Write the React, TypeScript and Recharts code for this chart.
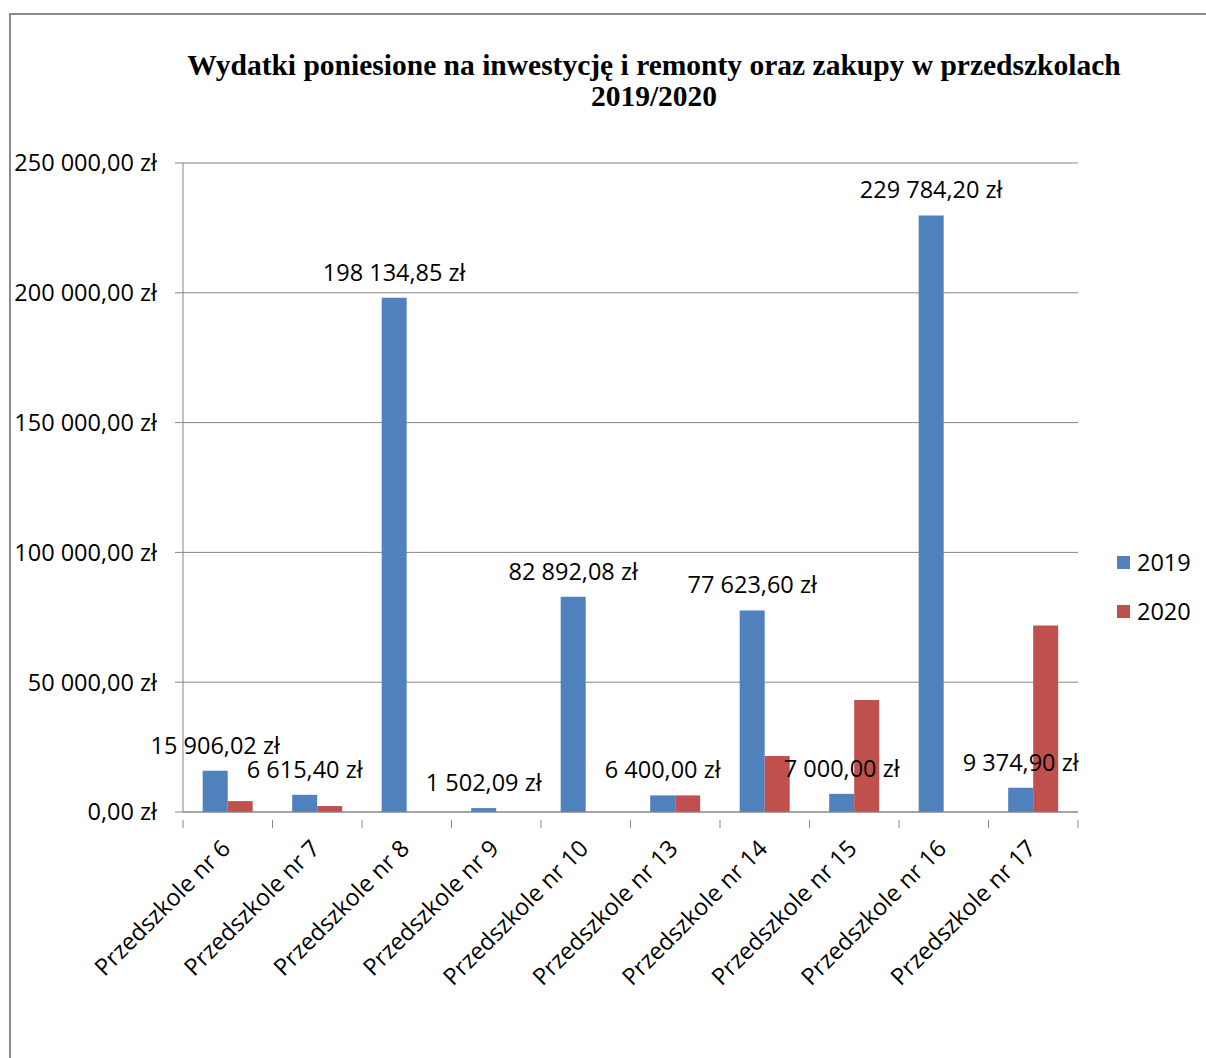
import { BarChart, Bar, XAxis, YAxis, CartesianGrid, LabelList } from 'recharts';

const categories = [
  'Przedszkole nr 6',
  'Przedszkole nr 7',
  'Przedszkole nr 8',
  'Przedszkole nr 9',
  'Przedszkole nr 10',
  'Przedszkole nr 13',
  'Przedszkole nr 14',
  'Przedszkole nr 15',
  'Przedszkole nr 16',
  'Przedszkole nr 17',
];
const values2019 = [15906.02, 6615.4, 198134.85, 1502.09, 82892.08, 6400.0, 77623.6, 7000.0, 229784.2, 9374.9];
const values2020 = [4200, 2300, 0, 0, 0, 6400, 21600, 43100, 0, 71800];
const yTicks = [0, 50000, 100000, 150000, 200000, 250000];

const data = categories.map((name, i) => ({ name, y2019: values2019[i], y2020: values2020[i] }));

const FONT = '"Open Sans", sans-serif';
const FS = 23.5;
const GRID = '#868686';
const BLUE = '#4F81BD';
const RED = '#C0504D';

const W = 1206;
const H = 1058;
const M = { top: 163, right: 128, left: 8, bottom: 96 };
const Y_W = 175;
const X_H = 150;
const BAND = (W - M.left - M.right - Y_W) / categories.length;

function zl(v: number) {
  const [i, d] = v.toFixed(2).split('.');
  return i.replace(/\B(?=(\d{3})+(?!\d))/g, ' ') + ',' + d + ' zł';
}

function XTick(props: any) {
  const { x, y, payload, index } = props;
  const left = x - BAND / 2;
  return (
    <g>
      <line x1={left} y1={y} x2={left} y2={y + 8} stroke={GRID} />
      {index === categories.length - 1 && (
        <line x1={x + BAND / 2} y1={y} x2={x + BAND / 2} y2={y + 8} stroke={GRID} />
      )}
      <text
        x={x + 4}
        y={y + 30}
        transform={`rotate(-45 ${x + 4} ${y + 30})`}
        textAnchor="end"
        fontFamily={FONT}
        fontSize={FS}
        fill="#000"
      >
        {payload.value}
      </text>
    </g>
  );
}

function ValueLabel(props: any) {
  const { x, y, width, value } = props;
  return (
    <text x={x + width / 2} y={y - 17} textAnchor="middle" fontFamily={FONT} fontSize={FS} fill="#000">
      {zl(Number(value))}
    </text>
  );
}

export default function App() {
  return (
    <div style={{ position: 'absolute', left: 0, top: 0, width: W, height: H, overflow: 'hidden', background: '#fff' }}>
      <div
        style={{
          position: 'absolute',
          left: 9,
          top: 13,
          width: 1300,
          height: 1100,
          border: '2px solid #8a8a8a',
        }}
      />
      <div
        style={{
          position: 'absolute',
          left: 0,
          top: 50,
          width: 1308,
          textAlign: 'center',
          fontFamily: '"Liberation Serif", "Times New Roman", serif',
          fontWeight: 'bold',
          fontSize: 29.5,
          lineHeight: '31px',
        }}
      >
        Wydatki poniesione na inwestycję i remonty oraz zakupy w przedszkolach
        <br />
        2019/2020
      </div>
      <div style={{ position: 'absolute', left: 0, top: 0 }}>
        <BarChart width={W} height={H} data={data} margin={M} barGap={0} barCategoryGap="22%">
          <CartesianGrid vertical={false} stroke={GRID} />
          <XAxis
            dataKey="name"
            height={X_H}
            axisLine={{ stroke: GRID }}
            tickLine={false}
            tick={<XTick />}
            interval={0}
          />
          <YAxis
            width={Y_W}
            domain={[0, 250000]}
            ticks={yTicks}
            tickFormatter={zl}
            axisLine={{ stroke: GRID }}
            tickLine={{ stroke: GRID }}
            tickSize={8}
            tickMargin={18}
            tick={{ fontFamily: FONT, fontSize: FS, fill: '#000' }}
          />
          <Bar dataKey="y2019" fill={BLUE} isAnimationActive={false}>
            <LabelList dataKey="y2019" content={<ValueLabel />} />
          </Bar>
          <Bar dataKey="y2020" fill={RED} isAnimationActive={false} />
        </BarChart>
      </div>
      {[
        { label: '2019', color: BLUE, top: 548 },
        { label: '2020', color: RED, top: 597 },
      ].map((l) => (
        <div
          key={l.label}
          style={{
            position: 'absolute',
            left: 1117,
            top: l.top,
            display: 'flex',
            alignItems: 'center',
            fontFamily: FONT,
            fontSize: FS,
            lineHeight: '28px',
          }}
        >
          <span style={{ width: 13, height: 13, background: l.color, marginRight: 7, display: 'inline-block' }} />
          {l.label}
        </div>
      ))}
    </div>
  );
}
